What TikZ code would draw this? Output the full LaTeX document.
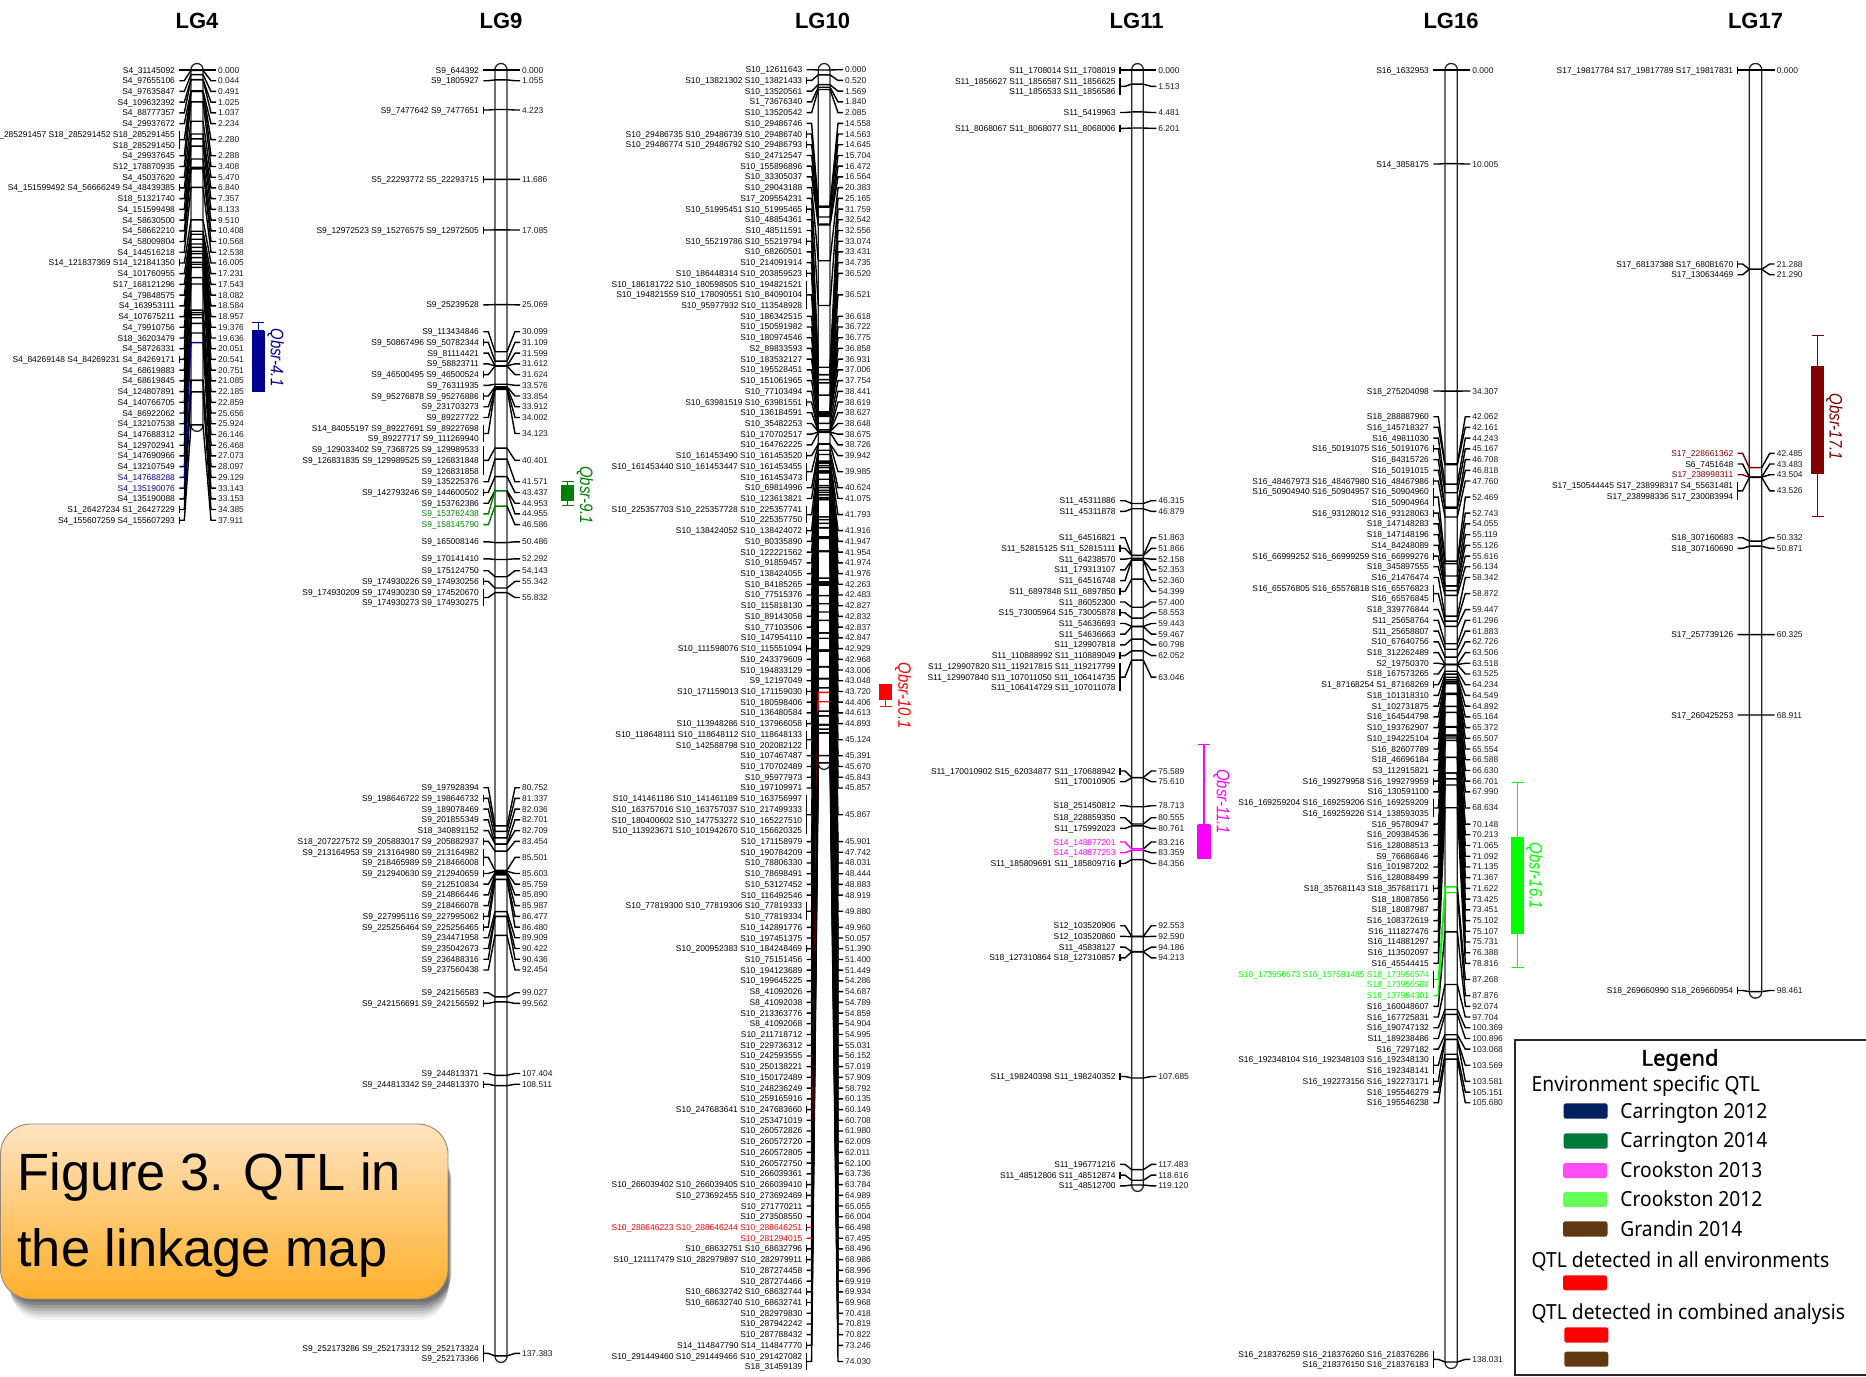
\documentclass[tikz,border=0pt]{standalone}
\usepackage{fontspec}
\setmainfont{Liberation Sans}
\newfontfamily\lgdfont[FakeStretch=0.925]{Noto Sans}
\newfontfamily\lgdbold[FakeBold=1.6]{Noto Sans}
\usetikzlibrary{calc}
\definecolor{qnavy}{HTML}{000090}
\definecolor{qgreen}{HTML}{008000}
\definecolor{qred}{HTML}{FF0000}
\definecolor{qmag}{HTML}{FF00FF}
\definecolor{qlime}{HTML}{00FF00}
\definecolor{qdark}{HTML}{800000}
\definecolor{txt}{HTML}{1A1A1A}
\definecolor{figtop}{HTML}{FFE3C0}
\definecolor{figbot}{HTML}{FFB02A}
\AtBeginDocument{\catcode`\_=12\relax}
\tikzset{
  lab/.style={inner sep=0pt,font=\fontsize{4.22pt}{5pt}\selectfont,text=txt},
  lk/.style={line width=.7pt},
  barline/.style={line width=.65pt,draw=black!85,rounded corners=3pt},
  ttl/.style={inner sep=0pt,font=\fontsize{11pt}{12pt}\selectfont\bfseries},
  qlab/.style={inner sep=0pt,rotate=-90,font=\fontsize{9pt}{10pt}\selectfont\itshape},
  lgd/.style={inner sep=0pt,anchor=west,font=\lgdfont\fontsize{10.4pt}{12pt}\selectfont},
  swatch/.style={rounded corners=1.2pt,draw=none},
  figtxt/.style={inner sep=0pt,anchor=base west,font=\fontsize{26.2pt}{30pt}\selectfont,text=black},
}
\newcount\locid
\def\yz{70}\def\scl{9.36}\def\rowh{10.72}
\newcommand\chromo[5]{% name, title x, barL, barR, end cM
  \def\chr{#1}\def\barL{#3}\def\barR{#4}%
  \pgfmathsetmacro\xa{#3-15.7}\pgfmathsetmacro\xb{#3-11.7}\pgfmathsetmacro\xc{#3-6.7}%
  \pgfmathsetmacro\xd{#4+8}\pgfmathsetmacro\xe{#4+13}\pgfmathsetmacro\xf{#4+14.7}%
  \pgfmathsetmacro\yend{\yz+\scl*#5+6.5}%
  \node[ttl] (title-#1) at (#2,21) {#1};
  \coordinate (bartop-#1) at (#3,63.5);
  \coordinate (barbot-#1) at (#4,\yend);
  \draw[barline] (bartop-#1) rectangle (barbot-#1);
}
\newcommand\rowat[1]{\xdef\rowy{#1}}
\newcommand\locus[4]{%
  \global\advance\locid by 1
  \edef\lid{\chr-\the\locid}%
  \pgfmathsetmacro\yb{\yz+\scl*#2}%
  \xdef\nl{0}%
  \foreach \tx [count=\ii from 0] in {#3} {%
    \pgfmathsetmacro\yy{\rowy+\ii*\rowh+3}%
    \node[lab,text=#1,anchor=base east] (L\lid-\ii) at (\xa,\yy) {\tx};
    \xdef\nl{\ii}%
  }%
  \pgfmathsetmacro\ymid{\rowy+\nl*\rowh/2}%
  \pgfmathsetmacro\ylast{\rowy+\nl*\rowh}%
  \pgfmathsetmacro\ytxt{\ymid+3}%
  \node[lab,anchor=base west] (R\lid) at (\xf,\ytxt) {#2};
  \coordinate (ta\lid) at (\xb,\ymid);
  \coordinate (tb\lid) at (\xc,\ymid);
  \coordinate (bl\lid) at (\barL,\yb);
  \coordinate (br\lid) at (\barR,\yb);
  \coordinate (tc\lid) at (\xd,\ymid);
  \coordinate (td\lid) at (\xe,\ymid);
  \draw[lk,draw=#1] (ta\lid) -- (tb\lid) -- (bl\lid) -- (br\lid);
  \draw[lk] (br\lid) -- (tc\lid) -- (td\lid);
  \ifnum#4=1
    \pgfmathsetmacro\ybt{\rowy-3.5}\pgfmathsetmacro\ybb{\ylast+3.5}%
    \coordinate (bt\lid) at (\xb,\ybt);
    \coordinate (bb\lid) at (\xb,\ybb);
    \draw[lk] (bt\lid) -- (bb\lid);
  \fi
  \pgfmathsetmacro\tmprow{\rowy+(\nl+1)*\rowh}%
  \xdef\rowy{\tmprow}%
}
\newcommand\mk[3][black]{\locus{#1}{#2}{#3}{0}}
\newcommand\mb[3][black]{\locus{#1}{#2}{#3}{1}}
% name, colour, centre x, half width, cap top, box top, box bottom, cap bottom, text x, text y, label
\newcommand\qtl[9]{%
  \def\qn{#1}\def\qc{#2}\def\qx{#3}\def\qh{#4}\def\qa{#5}\def\qb{#6}\def\qd{#7}\def\qe{#8}\def\qtx{#9}\qtlB}
\newcommand\qtlB[2]{%
  \pgfmathsetmacro\qxl{\qx-\qh}\pgfmathsetmacro\qxr{\qx+\qh}%
  \pgfmathsetmacro\qcapl{\qx-6}\pgfmathsetmacro\qcapr{\qx+6}%
  \coordinate (q\qn-a) at (\qx,\qa);\coordinate (q\qn-e) at (\qx,\qe);
  \coordinate (q\qn-al) at (\qcapl,\qa);\coordinate (q\qn-ar) at (\qcapr,\qa);
  \coordinate (q\qn-el) at (\qcapl,\qe);\coordinate (q\qn-er) at (\qcapr,\qe);
  \coordinate (q\qn-b) at (\qxl,\qb);\coordinate (q\qn-d) at (\qxr,\qd);
  \draw[line width=.6pt,draw=\qc] (q\qn-a) -- (q\qn-e);
  \draw[line width=.6pt,draw=\qc] (q\qn-al) -- (q\qn-ar);
  \draw[line width=.6pt,draw=\qc] (q\qn-el) -- (q\qn-er);
  \fill[\qc] (q\qn-b) rectangle (q\qn-d);
  \node[qlab,text=\qc] (qlab\qn) at (\qtx,#1) {\scalebox{.83}[1]{#2}};
}
\begin{document}
\begin{tikzpicture}[x=0.5pt,y=-0.5pt]
\useasboundingbox (0,0) rectangle (1866,1376);
\clip (0,0) rectangle (1866,1376);
\fill[white] (0,0) rectangle (1866,1376);

%% ---------- LG4
\chromo{LG4}{197}{191}{203}{37.911}
\rowat{70}
\mk{0.000}{S4_31145092}
\mk{0.044}{S4_97655106}
\mk{0.491}{S4_97635847}
\mk{1.025}{S4_109632392}
\mk{1.037}{S4_88777357}
\mk{2.234}{S4_29937672}
\mb{2.280}{S18_285291457 S18_285291452 S18_285291455,S18_285291450}
\mk{2.288}{S4_29937645}
\mk{3.408}{S12_178870935}
\mk{5.470}{S4_45037620}
\mb{6.840}{S4_151599492 S4_56666249 S4_48439385}
\mk{7.357}{S18_51321740}
\mk{8.133}{S4_151599498}
\mk{9.510}{S4_58630500}
\mk{10.408}{S4_58662210}
\mk{10.568}{S4_58009804}
\mk{12.538}{S4_144516218}
\mb{16.005}{S14_121837369 S14_121841350}
\mk{17.231}{S4_101760955}
\mk{17.543}{S17_168121296}
\mk{18.082}{S4_79848575}
\mk{18.584}{S4_163953111}
\mk{18.957}{S4_107675211}
\mk{19.376}{S4_79910756}
\mk{19.636}{S18_36203479}
\mk{20.051}{S4_58726331}
\mb{20.541}{S4_84269148 S4_84269231 S4_84269171}
\mk{20.751}{S4_68619883}
\mk{21.085}{S4_68619845}
\mk{22.185}{S4_124807891}
\mk{22.859}{S4_140766705}
\mk{25.656}{S4_86922062}
\mk{25.924}{S4_132107538}
\mk{26.146}{S4_147688312}
\mk{26.468}{S4_129702941}
\mk{27.073}{S4_147690966}
\mk{28.097}{S4_132107549}
\mk[qnavy]{29.129}{S4_147688288}
\mk[qnavy]{33.143}{S4_135190076}
\mk{33.153}{S4_135190088}
\mb{34.385}{S1_26427234 S1_26427229}
\mb{37.911}{S4_155607259 S4_155607293}
\qtl{41}{qnavy}{258.3}{6.7}{322.3}{330.7}{392.3}{330.7}{275.7}{357.5}{Qbsr-4.1}

%% ---------- LG9
\chromo{LG9}{501}{495}{507}{137.383}
\rowat{70}
\mk{0.000}{S9_644392}
\mk{1.055}{S9_1805927}
\rowat{110}
\mb{4.223}{S9_7477642 S9_7477651}
\rowat{179.4}
\mb{11.686}{S5_22293772 S5_22293715}
\rowat{230}
\mb{17.085}{S9_12972523 S9_15276575 S9_12972505}
\rowat{304.8}
\mk{25.069}{S9_25239528}
\rowat{331.7}
\mk{30.099}{S9_113434846}
\mb{31.109}{S9_50867496 S9_50782344}
\mk{31.599}{S9_81114421}
\mk{31.612}{S9_58823711}
\mb{31.624}{S9_46500495 S9_46500524}
\mk{33.576}{S9_76311935}
\mb{33.854}{S9_95276878 S9_95276886}
\mk{33.912}{S9_231703273}
\mk{34.002}{S9_89227722}
\mb{34.123}{S14_84055197 S9_89227691 S9_89227698,S9_89227717 S9_111269940}
\mb{40.401}{S9_129033402 S9_7368725 S9_129989533,S9_126831835 S9_129989525 S9_126831848,S9_126831858}
\mk{41.571}{S9_135225376}
\mb{43.437}{S9_142793246 S9_144600502}
\mk{44.953}{S9_153762386}
\mk[qgreen]{44.955}{S9_153762438}
\mk[qgreen]{46.586}{S9_158145790}
\rowat{541.8}
\mk{50.486}{S9_165008146}
\rowat{558.8}
\mk{52.292}{S9_170141410}
\rowat{570.7}
\mk{54.143}{S9_175124750}
\mb{55.342}{S9_174930226 S9_174930256}
\mb{55.832}{S9_174930209 S9_174930230 S9_174520670,S9_174930273 S9_174930275}
\rowat{787.7}
\mk{80.752}{S9_197928394}
\mb{81.337}{S9_198646722 S9_198646732}
\mk{82.036}{S9_189078469}
\mk{82.701}{S9_201855349}
\mk{82.709}{S18_340891152}
\mb{83.454}{S18_207227572 S9_205883017 S9_205882937}
\mb{85.501}{S9_213164953 S9_213164980 S9_213164982,S9_218465989 S9_218466008}
\mb{85.603}{S9_212940630 S9_212940659}
\mk{85.759}{S9_212510834}
\mk{85.890}{S9_214866446}
\mk{85.987}{S9_218466078}
\mb{86.477}{S9_227995116 S9_227995062}
\mb{86.480}{S9_225256464 S9_225256465}
\mk{89.909}{S9_234471958}
\mk{90.422}{S9_235042673}
\mk{90.436}{S9_236488316}
\mk{92.454}{S9_237560438}
\rowat{992.7}
\mk{99.027}{S9_242156583}
\mb{99.562}{S9_242156691 S9_242156592}
\rowat{1073.5}
\mk{107.404}{S9_244813371}
\mb{108.511}{S9_244813342 S9_244813370}
\rowat{1348}
\mb{137.383}{S9_252173286 S9_252173312 S9_252173324,S9_252173366}
\qtl{91}{qgreen}{567.5}{6.8}{481.7}{485.3}{500.7}{505.7}{585}{495}{Qbsr-9.1}

%% ---------- LG10
\chromo{LG10}{822.5}{818.3}{830}{74.030}
\rowat{69.7}
\mk{0.000}{S10_12611643}
\mb{0.520}{S10_13821302 S10_13821433}
\mk{1.569}{S10_13520561}
\mk{1.840}{S1_73676340}
\mk{2.085}{S10_13520542}
\mk{14.558}{S10_29486746}
\mb{14.563}{S10_29486735 S10_29486739 S10_29486740}
\mb{14.645}{S10_29486774 S10_29486792 S10_29486793}
\mk{15.704}{S10_24712547}
\mk{16.472}{S10_155896896}
\mk{16.564}{S10_33305037}
\mk{20.383}{S10_29043188}
\mk{25.165}{S17_209554231}
\mb{31.759}{S10_51995451 S10_51995465}
\mk{32.542}{S10_48854361}
\mk{32.556}{S10_48511591}
\mb{33.074}{S10_55219786 S10_55219794}
\mk{33.431}{S10_68260501}
\mk{34.735}{S10_214091914}
\mb{36.520}{S10_186448314 S10_203859523}
\mb{36.521}{S10_186181722 S10_180598505 S10_194821521,S10_194821559 S10_178090551 S10_84090104,S10_95977932 S10_113548928}
\mk{36.618}{S10_186342515}
\mk{36.722}{S10_150591982}
\mk{36.775}{S10_180974546}
\mk{36.858}{S2_89833593}
\mk{36.931}{S10_183532127}
\mk{37.006}{S10_195528451}
\mk{37.754}{S10_151061965}
\mk{38.441}{S10_77103494}
\mb{38.619}{S10_63981519 S10_63981551}
\mk{38.627}{S10_136184591}
\mk{38.648}{S10_35482253}
\mk{38.675}{S10_170702517}
\mk{38.726}{S10_164762225}
\mb{39.942}{S10_161453490 S10_161453520}
\mb{39.985}{S10_161453440 S10_161453447 S10_161453455,S10_161453473}
\mk{40.624}{S10_69814996}
\mk{41.075}{S10_123613821}
\mb{41.793}{S10_225357703 S10_225357728 S10_225357741,S10_225357750}
\mb{41.916}{S10_138424052 S10_138424072}
\mk{41.947}{S10_80335890}
\mk{41.954}{S10_122221562}
\mk{41.974}{S10_91859457}
\mk{41.976}{S10_138424055}
\mk{42.263}{S10_84185265}
\mk{42.483}{S10_77515376}
\mk{42.827}{S10_115818130}
\mk{42.832}{S10_89143058}
\mk{42.837}{S10_77103506}
\mk{42.847}{S10_147954110}
\mb{42.929}{S10_111598076 S10_115551094}
\mk{42.968}{S10_243379609}
\mk{43.006}{S10_194833129}
\mk{43.048}{S9_12197049}
\mb{43.720}{S10_171159013 S10_171159030}
\mk{44.406}{S10_180598406}
\mk{44.613}{S10_136480584}
\mb{44.893}{S10_113948286 S10_137966058}
\mb{45.124}{S10_118648111 S10_118648112 S10_118648133,S10_142588798 S10_202082122}
\mk{45.391}{S10_107467487}
\mk{45.670}{S10_170702489}
\mk{45.843}{S10_95977973}
\mk{45.857}{S10_197109971}
\mb{45.867}{S10_141461186 S10_141461189 S10_163756997,S10_163757016 S10_163757037 S10_217499333,S10_180400602 S10_147753272 S10_165227510,S10_113923671 S10_101942670 S10_156620325}
\mk{45.901}{S10_171158979}
\mk{47.742}{S10_190784209}
\mk{48.031}{S10_78806330}
\mk{48.444}{S10_78698491}
\mk{48.883}{S10_53127452}
\mk{48.919}{S10_116492546}
\mb{49.880}{S10_77819300 S10_77819306 S10_77819333,S10_77819334}
\mk{49.960}{S10_142891776}
\mk{50.057}{S10_197451375}
\mb{51.390}{S10_200952383 S10_184248469}
\mk{51.400}{S10_75151456}
\mk{51.449}{S10_194123689}
\mk{54.286}{S10_199645225}
\mk{54.687}{S8_41092026}
\mk{54.789}{S8_41092038}
\mk{54.859}{S10_213363776}
\mk{54.904}{S8_41092068}
\mk{54.995}{S10_211718712}
\mk{55.031}{S10_229736312}
\mk{56.152}{S10_242593555}
\mk{57.019}{S10_250138221}
\mk{57.909}{S10_150172489}
\mk{58.792}{S10_248236249}
\mk{60.135}{S10_259165916}
\mb{60.149}{S10_247683641 S10_247683660}
\mk{60.708}{S10_253471019}
\mk{61.980}{S10_260572826}
\mk{62.009}{S10_260572720}
\mk{62.011}{S10_260572805}
\mk{62.100}{S10_260572750}
\mk{63.736}{S10_266039361}
\mb{63.784}{S10_266039402 S10_266039405 S10_266039410}
\mb{64.989}{S10_273692455 S10_273692469}
\mk{65.055}{S10_271770211}
\mk{66.004}{S10_273508550}
\mb[qred]{66.498}{S10_288646223 S10_288646244 S10_288646251}
\mk[qred]{67.495}{S10_281294015}
\mb{68.496}{S10_68632751 S10_68632796}
\mb{68.986}{S10_121117479 S10_282979897 S10_282979911}
\mk{68.996}{S10_287274458}
\mk{69.919}{S10_287274466}
\mb{69.934}{S10_68632742 S10_68632744}
\mb{69.968}{S10_68632740 S10_68632741}
\mk{70.418}{S10_282979830}
\mk{70.819}{S10_287942242}
\mk{70.822}{S10_287788432}
\mb{73.246}{S14_114847790 S14_114847770}
\mb{74.030}{S10_291449460 S10_291449466 S10_291427082,S18_31459139}
\qtl{101}{qred}{885.7}{6.7}{684.3}{684.3}{700}{706.7}{903.3}{695.5}{Qbsr-10.1}

%% ---------- LG11
\chromo{LG11}{1136.6}{1131.7}{1143.3}{119.120}
\rowat{70}
\mb{0.000}{S11_1708014 S11_1708019}
\rowat{81}
\mb{1.513}{S11_1856627 S11_1856587 S11_1856625,S11_1856533 S11_1856586}
\rowat{112.5}
\mk{4.481}{S11_5419963}
\rowat{128.3}
\mb{6.201}{S11_8068067 S11_8068077 S11_8068006}
\rowat{500.7}
\mk{46.315}{S11_45311886}
\mk{46.879}{S11_45311878}
\rowat{537.7}
\mk{51.863}{S11_64516821}
\mb{51.866}{S11_52815125 S11_52815111}
\mk{52.158}{S11_64238570}
\mk{52.353}{S11_179313107}
\mk{52.360}{S11_64516748}
\mb{54.399}{S11_6897848 S11_6897850}
\mk{57.400}{S11_86052300}
\mb{58.553}{S15_73005964 S15_73005878}
\mk{59.443}{S11_54636693}
\mk{59.467}{S11_54636663}
\mk{60.798}{S11_129907818}
\mb{62.052}{S11_110888992 S11_110889049}
\mb{63.046}{S11_129907820 S11_119217815 S11_119217799,S11_129907840 S11_107011050 S11_106414735,S11_106414729 S11_107011078}
\rowat{771}
\mb{75.589}{S11_170010902 S15_62034877 S11_170688942}
\mk{75.610}{S11_170010905}
\rowat{805.7}
\mk{78.713}{S18_251450812}
\rowat{817.7}
\mk{80.555}{S18_228859350}
\mk{80.761}{S11_175992023}
\rowat{842}
\mk[qmag]{83.216}{S14_148877201}
\mk[qmag]{83.359}{S14_148877253}
\mb{84.356}{S11_185809691 S11_185809716}
\rowat{925.7}
\mk{92.553}{S12_103520906}
\mk{92.590}{S12_103520860}
\mk{94.186}{S11_45838127}
\mb{94.213}{S18_127310864 S18_127310857}
\rowat{1076.5}
\mb{107.685}{S11_198240398 S11_198240352}
\rowat{1164.4}
\mk{117.483}{S11_196771216}
\mb{118.616}{S11_48512806 S11_48512874}
\mk{119.120}{S11_48512700}
\qtl{111}{qmag}{1204}{6.8}{744.3}{825}{859}{825}{1221.7}{801.7}{Qbsr-11.1}

%% ---------- LG16
\chromo{LG16}{1451}{1445}{1457.3}{138.031}
\rowat{70}
\mk{0.000}{S16_1632953}
\rowat{164}
\mk{10.005}{S14_3858175}
\rowat{391}
\mk{34.307}{S18_275204098}
\rowat{416.7}
\mk{42.062}{S18_288887960}
\mk{42.161}{S16_145718327}
\mk{44.243}{S16_49811030}
\mb{45.167}{S16_50191075 S16_50191076}
\mk{46.708}{S16_84315726}
\mk{46.818}{S16_50191015}
\mb{47.760}{S16_48467973 S16_48467980 S16_48467986}
\mb{52.469}{S16_50904940 S16_50904957 S16_50904960,S16_50904964}
\mb{52.743}{S16_93128012 S16_93128063}
\mk{54.055}{S18_147148283}
\mk{55.119}{S18_147148196}
\mk{55.126}{S14_84248089}
\mb{55.616}{S16_66999252 S16_66999259 S16_66999276}
\mk{56.134}{S18_345897555}
\mk{58.342}{S16_21476474}
\mb{58.872}{S16_65576805 S16_65576818 S16_65576823,S16_65576845}
\mk{59.447}{S18_339776844}
\mk{61.296}{S11_25658764}
\mk{61.883}{S11_25658807}
\mk{62.726}{S10_67640756}
\mk{63.506}{S18_312262489}
\mk{63.518}{S2_19750370}
\mk{63.525}{S18_167573265}
\mb{64.234}{S1_87168254 S1_87168269}
\mk{64.549}{S18_101318310}
\mk{64.892}{S1_102731875}
\mk{65.164}{S16_164544798}
\mk{65.372}{S10_193762907}
\mk{65.507}{S10_194225104}
\mk{65.554}{S16_82607789}
\mk{66.588}{S18_46696184}
\mk{66.630}{S3_112915821}
\mb{66.701}{S16_199279958 S16_199279959}
\mk{67.990}{S16_130591100}
\mb{68.634}{S16_169259204 S16_169259206 S16_169259209,S16_169259226 S14_138593035}
\mk{70.148}{S16_95780947}
\mk{70.213}{S16_209384536}
\mk{71.065}{S16_128088513}
\mk{71.092}{S9_76686846}
\mk{71.135}{S16_101987202}
\mk{71.367}{S16_128088499}
\mb{71.622}{S18_357681143 S18_357681171}
\mk{73.425}{S18_18087856}
\mk{73.451}{S18_18087987}
\mk{75.102}{S16_108372619}
\mk{75.107}{S16_111827476}
\mk{75.731}{S16_114881297}
\mk{76.388}{S16_113502097}
\mk{78.816}{S16_45544415}
\mb[qlime]{87.268}{S18_173956673 S16_157591485 S18_173956574,S18_173956588}
\mk[qlime]{87.876}{S16_137964301}
\mk{92.074}{S16_160048607}
\mk{97.704}{S16_167725831}
\mk{100.369}{S16_190747132}
\mk{100.896}{S11_189238486}
\mk{103.068}{S16_7297182}
\mb{103.569}{S16_192348104 S16_192348103 S16_192348130,S16_192348141}
\mb{103.581}{S16_192273156 S16_192273171}
\mk{105.151}{S16_195546279}
\mk{105.680}{S16_195546238}
\rowat{1354}
\mb{138.031}{S16_218376259 S16_218376260 S16_218376286,S16_218376150 S16_218376183}
\qtl{161}{qlime}{1517.7}{6.7}{782.7}{836.7}{934.3}{967.3}{1534.3}{875.7}{Qbsr-16.1}

%% ---------- LG17
\chromo{LG17}{1755.5}{1749.3}{1761.7}{98.461}
\rowat{70}
\mb{0.000}{S17_19817784 S17_19817789 S17_19817831}
\rowat{264}
\mb{21.288}{S17_68137388 S17_68081670}
\mk{21.290}{S17_130634469}
\rowat{453.3}
\mk[qdark]{42.485}{S17_228661362}
\mk{43.483}{S6_7451648}
\mk[qdark]{43.504}{S17_238998311}
\mb{43.526}{S17_150544445 S17_238998317 S4_55631481,S17_238998336 S17_230083994}
\rowat{537.7}
\mk{50.332}{S18_307160683}
\mk{50.871}{S18_307160690}
\rowat{634.6}
\mk{60.325}{S17_257739126}
\rowat{715}
\mk{68.911}{S17_260425253}
\rowat{990.5}
\mb{98.461}{S18_269660990 S18_269660954}
\qtl{171}{qdark}{1817.5}{6.8}{335.7}{366}{474.3}{516.7}{1834.3}{426.7}{Qbsr-17.1}

%% ---------- Figure box
\foreach \sd/\op in {21/.05,18/.07,15/.09,12/.11,9/.13,6/.15,3/.15}{
  \fill[black,opacity=\op,rounded corners=15pt] (\sd/3+4,1150) rectangle (452-\sd/5,1299+\sd);
}
\coordinate (figa) at (0.5,1124);
\coordinate (figb) at (448,1299);
\shadedraw[draw=black!55!brown!60,line width=.45pt,rounded corners=15pt,
  top color=figtop,bottom color=figbot]
  (figa) rectangle (figb);
\node[figtxt] (figtitle1) at (17,1190) {Figure 3. QTL in};
\node[figtxt] (figtitle2) at (17,1266.7) {the linkage map};

%% ---------- Legend
\coordinate (lega) at (1514.7,1040);
\coordinate (legb) at (1880,1375.2);
\draw[line width=.8pt,draw=black!85] (lega) rectangle (legb);
\node[inner sep=0pt,font=\lgdbold\fontsize{11pt}{12pt}\selectfont] (legtitle) at (1680,1060) {Legend};
\node[lgd] (l1) at (1531.3,1086) {Environment specific QTL};
\node[lgd] (l2) at (1620,1113) {Carrington 2012};
\node[lgd] (l3) at (1620,1142.7) {Carrington 2014};
\node[lgd] (l4) at (1620,1170) {Crookston 2013};
\node[lgd] (l5) at (1620,1199) {Crookston 2012};
\node[lgd] (l6) at (1620,1229) {Grandin 2014};
\node[lgd] (l7) at (1531.3,1261) {QTL detected in all environments};
\node[lgd] (l8) at (1531.3,1314) {QTL detected in combined analysis};
\fill[swatch,fill={rgb,255:red,0;green,32;blue,96}] (1563.7,1103.3) rectangle (1607.7,1118.7);
\fill[swatch,fill={rgb,255:red,0;green,122;blue,55}] (1563.7,1133.3) rectangle (1607.7,1148.7);
\fill[swatch,fill={rgb,255:red,255;green,77;blue,245}] (1563,1163) rectangle (1607,1178);
\fill[swatch,fill={rgb,255:red,102;green,255;blue,90}] (1563,1192) rectangle (1607,1207);
\fill[swatch,fill={rgb,255:red,96;green,57;blue,19}] (1563,1221.3) rectangle (1607.5,1236.7);
\fill[swatch,fill=red] (1563,1275.3) rectangle (1607,1290.3);
\fill[swatch,fill=red] (1564.3,1327.3) rectangle (1608.3,1342.7);
\fill[swatch,fill={rgb,255:red,96;green,57;blue,19}] (1564.3,1351.7) rectangle (1608.3,1366.7);
\end{tikzpicture}
\end{document}
